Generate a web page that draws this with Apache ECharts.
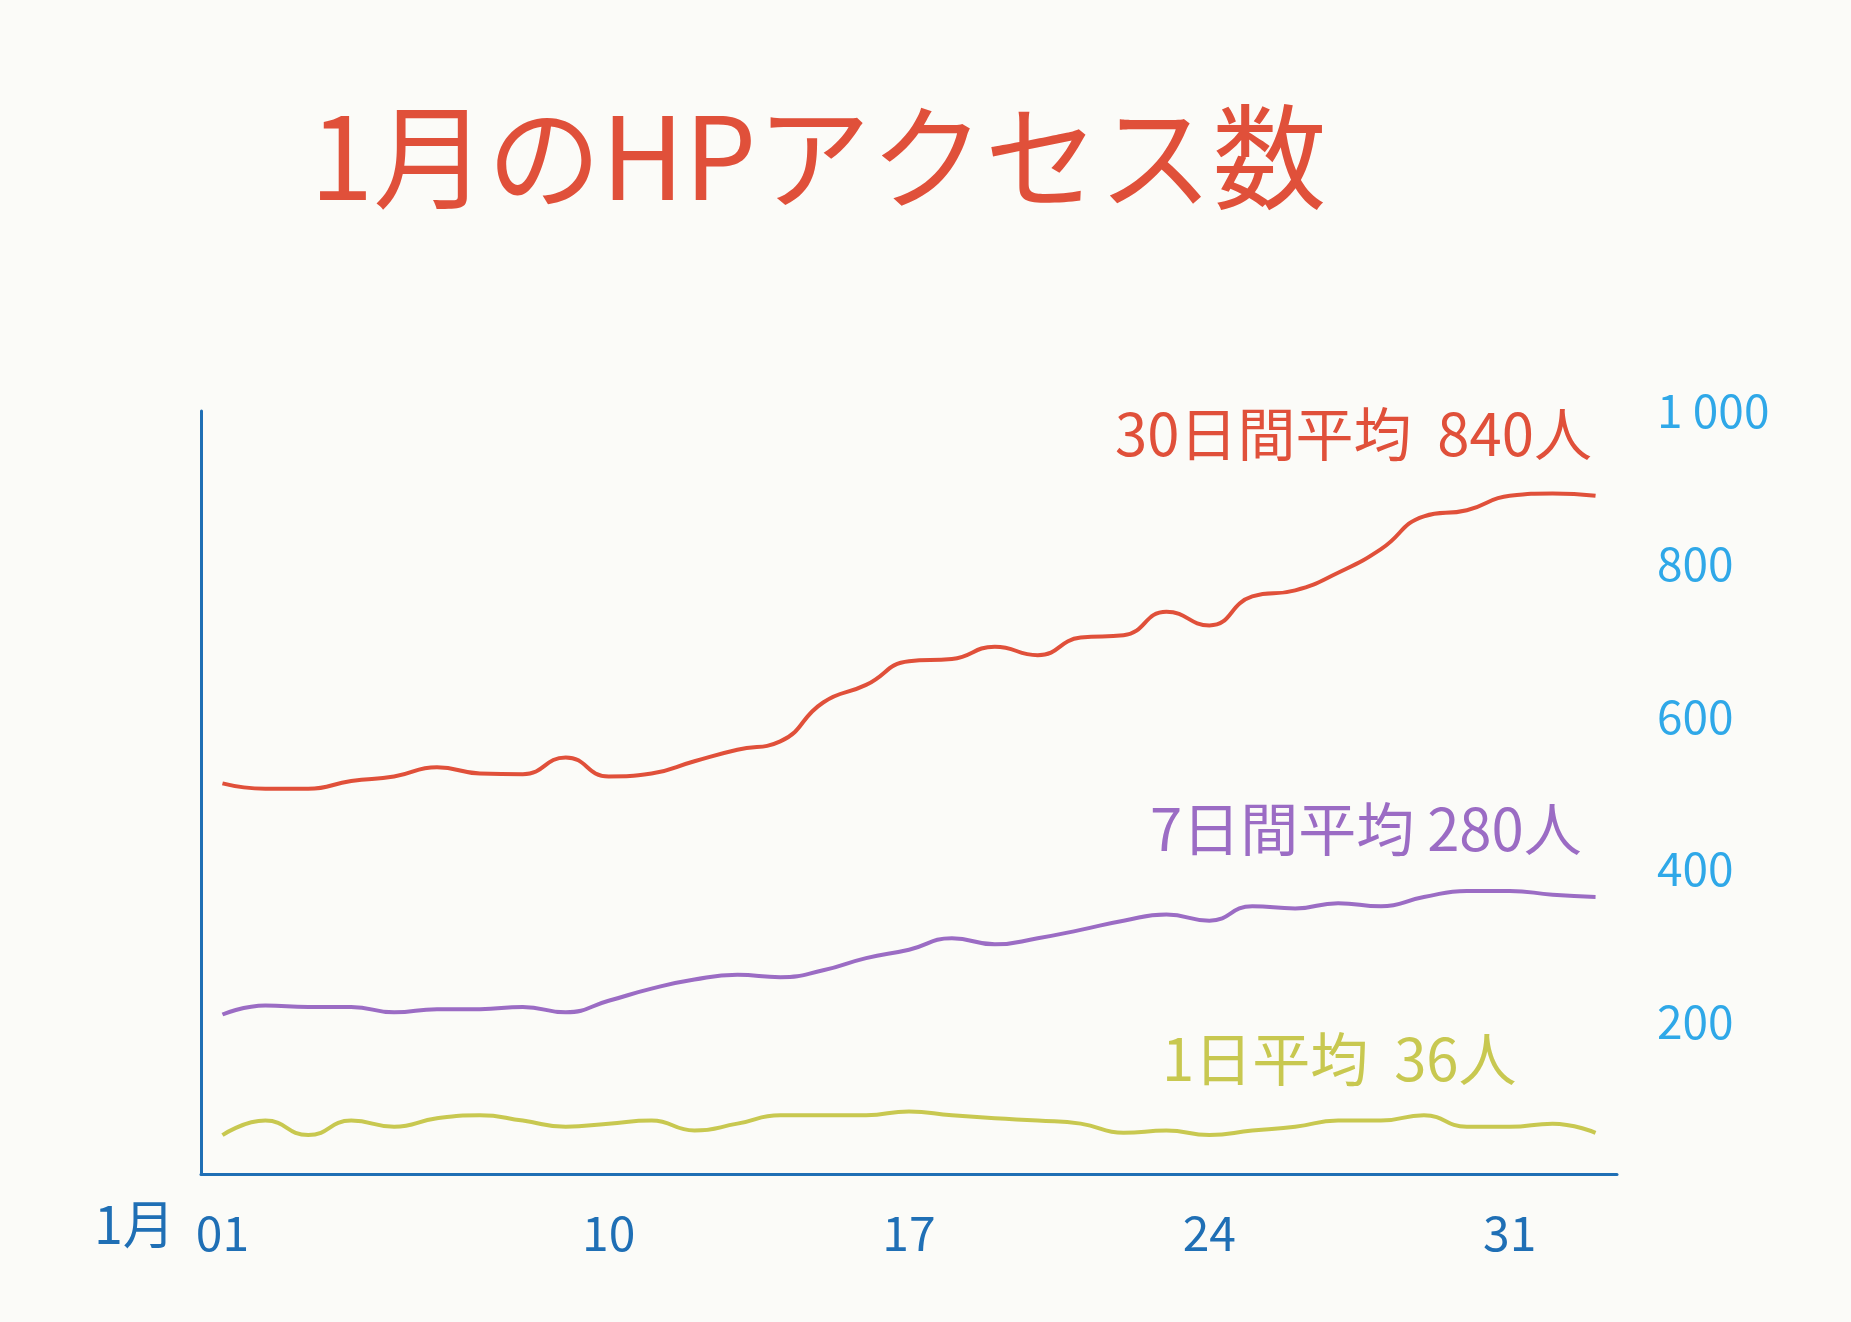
<!DOCTYPE html>
<html><head><meta charset="utf-8">
<script src="https://cdn.jsdelivr.net/npm/echarts@6/dist/echarts.min.js"></script>
<style>html,body{margin:0;background:#fbfbf8}#c{width:1851px;height:1322px}</style>
</head><body><div id="c"></div>
<script>
const days = Array.from({length:33},(_,i)=>i+1);
const avg30 = [512,505,505,515,521,533,525,524,546,521,525,541,556,567,618,641,672,675,691,680,703,706,737,719,757,765,788,819,862,870,889,892,889];
const avg7 = [209,221,219,219,212,216,216,219,212,227,243,255,261,258,267,283,294,309,301,309,320,332,340,332,351,348,355,351,363,371,371,366,363];
const avg1 = [51,70,51,70,62,73,77,70,62,66,70,57,66,77,77,77,82,77,73,70,66,54,57,51,57,62,70,70,77,62,62,66,54];
const xTicks = [1,10,17,24,31];
const xTickLabels = ['01','10','17','24','31'];
const yTicks = [200,400,600,800,1000];
const yTickLabels = ['200','400','600','800','1 000'];
const F = '"Noto Sans CJK JP"';
const chart = echarts.init(document.getElementById('c'));
const mk = (d, col, w) => ({type:'line', data: days.map((x,i)=>[x,d[i]]), smooth:0.5, symbol:'none', lineStyle:{color:col,width:w}});
chart.setOption({
  backgroundColor:'#fbfbf8',
  animation:false,
  title:{text:'1月のHPアクセス数', left:305, top:95, textStyle:{color:'#e0503a', fontSize:114, fontWeight:'normal', fontFamily:F}},
  grid:{left:201, right:234, top:411, bottom:148},
  xAxis:{type:'value', min:0.5, max:33.5, splitLine:{show:false},
    axisLine:{lineStyle:{color:'#1f6fb5',width:3}},
    axisTick:{show:false},
    axisLabel:{customValues:xTicks, formatter:v=>xTickLabels[xTicks.indexOf(v)]??'', color:'#1f6fb5', fontSize:48, fontFamily:F, margin:35}},
  yAxis:[
    {type:'value', min:0, max:1000, position:'right', splitLine:{show:false}, axisLine:{show:false}, axisTick:{show:false},
     axisLabel:{customValues:yTicks, formatter:v=>yTickLabels[yTicks.indexOf(v)], color:'#2fa8e8', fontSize:46, fontFamily:F, margin:40}},
    {type:'value', min:0, max:1000, position:'left', axisLine:{show:true,lineStyle:{color:'#1f6fb5',width:3}}, axisTick:{show:false}, axisLabel:{show:false}, splitLine:{show:false}}
  ],
  series:[mk(avg30,'#e0503a',4), mk(avg7,'#9b6cc4',4), mk(avg1,'#c8c850',4)],
  graphic:[
    {type:'text', left:94, top:1198, style:{text:'1月', fill:'#1f6fb5', font:'52px '+F}},
    {type:'text', left:1115, top:405, style:{text:'30日間平均  840人', fill:'#e0503a', font:'58px '+F}},
    {type:'text', left:1150, top:800, style:{text:'7日間平均 280人', fill:'#9b6cc4', font:'58px '+F}},
    {type:'text', left:1162, top:1030, style:{text:'1日平均  36人', fill:'#c8c850', font:'58px '+F}}
  ]
});
</script></body></html>
